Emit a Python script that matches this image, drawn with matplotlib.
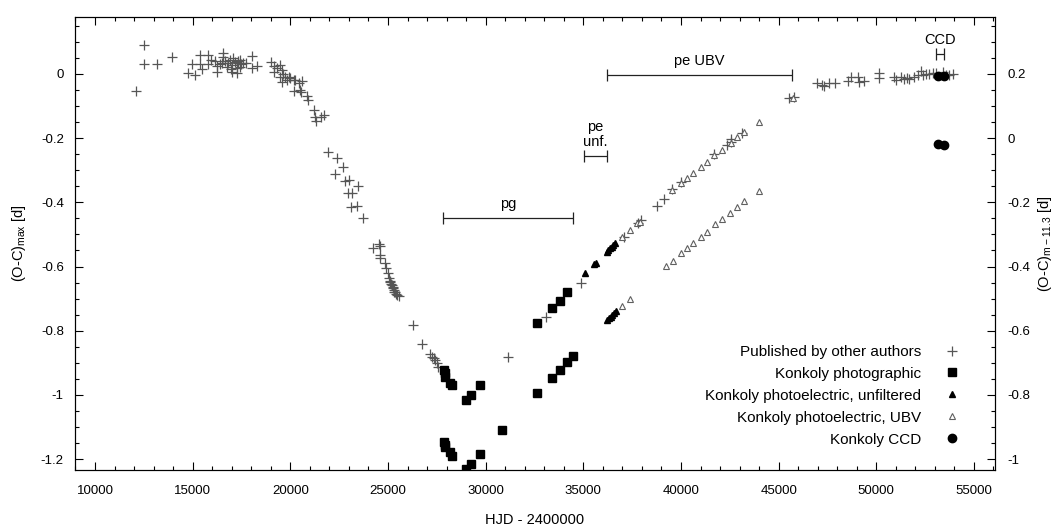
import matplotlib
matplotlib.use("Agg")
import matplotlib.pyplot as plt
from matplotlib.ticker import MultipleLocator, FuncFormatter

plt.rcParams['font.family'] = ['Liberation Sans', 'DejaVu Sans']
plt.rcParams['mathtext.fontset'] = 'custom'
plt.rcParams['mathtext.rm'] = 'Liberation Sans'

# ---- (O-C)_max, published maxima (left axis) ----
pub_hjd = [12086, 12512, 12512, 13195, 13930, 14750, 14990, 15126, 15382, 15382,
           15500, 15809, 15809, 15950, 16151, 16238, 16238, 16400, 16492, 16577,
           16577, 16650, 16748, 16833, 16920, 16960, 17005, 17005, 17090, 17176,
           17262, 17262, 17300, 17347, 17400, 17432, 17500, 17603, 17722, 18030,
           18030, 18286, 19006, 19141, 19141, 19300, 19483, 19483, 19568, 19568,
           19650, 19740, 19825, 19910, 20000, 20165, 20165, 20252, 20421, 20508,
           20530, 20593, 20850, 20884, 21191, 21278, 21312, 21568, 21705, 21910,
           22388, 22303, 22695, 22780, 23020, 22951, 23155, 23463, 23122, 23412,
           23720, 24233, 24523, 24609, 24575, 24609, 24866, 24917, 24986, 25037,
           25080, 25122, 25160, 25208, 25240, 25259, 25293, 25330, 25378, 25420,
           25464, 25583, 26286, 26762, 27173, 27258, 27350, 27429, 27515, 27566,
           31138, 33067, 34862, 37080, 37800, 37937, 38778, 39155, 39558, 40000,
           41692, 42370, 42550, 42584, 43100, 45537, 45793, 46940, 47196, 47298,
           47585, 47877, 48528, 48698, 49041, 49126, 49382, 50151, 50151, 50920,
           51006, 51262, 51400, 51569, 51689, 51945, 52116, 52287, 52373, 52543,
           52714, 52885, 53055, 53397, 53568, 53739, 53910]
pub_oc = [-0.052, 0.090, 0.032, 0.032, 0.054, 0.004, 0.032, -0.002, 0.060, 0.032,
          0.015, 0.060, 0.032, 0.045, 0.041, 0.007, 0.025, 0.030, 0.033, 0.066,
          0.054, 0.040, 0.023, 0.033, 0.044, 0.015, 0.028, 0.007, 0.050, 0.038,
          0.018, 0.002, 0.040, 0.033, 0.022, 0.044, 0.030, 0.033, 0.035, 0.056,
          0.018, 0.026, 0.038, 0.026, 0.007, 0.020, 0.028, -0.008, 0.012, -0.024,
          0.000, -0.008, -0.019, -0.008, -0.012, -0.019, -0.052, -0.019, -0.029, -0.050,
          -0.055, -0.022, -0.068, -0.081, -0.112, -0.133, -0.145, -0.135, -0.128, -0.244,
          -0.263, -0.312, -0.289, -0.332, -0.330, -0.370, -0.370, -0.349, -0.413, -0.410,
          -0.450, -0.543, -0.531, -0.536, -0.564, -0.574, -0.590, -0.605, -0.621, -0.636,
          -0.645, -0.647, -0.655, -0.657, -0.668, -0.665, -0.673, -0.680, -0.678, -0.685,
          -0.688, -0.692, -0.782, -0.843, -0.872, -0.881, -0.885, -0.891, -0.901, -0.912,
          -0.881, -0.756, -0.652, -0.507, -0.465, -0.455, -0.411, -0.390, -0.358, -0.338,
          -0.250, -0.221, -0.213, -0.203, -0.185, -0.074, -0.073, -0.029, -0.034, -0.037,
          -0.027, -0.027, -0.021, -0.010, -0.008, -0.024, -0.021, 0.002, -0.013, -0.010,
          -0.019, -0.008, -0.017, -0.013, -0.017, -0.008, -0.003, 0.010, -0.003, -0.001,
          0.000, 0.002, 0.004, 0.007, -0.003, -0.003, -0.001]

# ---- Konkoly photographic ----
pg_max_hjd = [27890, 27900, 27940, 28200, 28280, 29000, 29255, 29735, 32640, 33410, 33785, 34145]
pg_max_oc = [-0.922, -0.932, -0.943, -0.962, -0.970, -1.016, -1.000, -0.969, -0.775, -0.729, -0.706, -0.681]
pg_m_hjd = [27890, 27900, 27940, 28200, 28280, 29000, 29255, 29735, 30827, 32640, 33410, 33785, 34145, 34485]
pg_m_oc = [-0.948, -0.955, -0.963, -0.978, -0.990, -1.030, -1.015, -0.984, -0.911, -0.793, -0.746, -0.722, -0.699, -0.679]

# ---- Konkoly photoelectric, unfiltered ----
peu_max_hjd = [35086, 35547, 35630, 36192, 36278, 36366, 36450, 36536, 36620]
peu_max_oc = [-0.619, -0.593, -0.590, -0.554, -0.549, -0.543, -0.538, -0.533, -0.527]
peu_m_hjd = [36227, 36313, 36398, 36484, 36569, 36655]
peu_m_oc = [-0.566, -0.561, -0.556, -0.551, -0.546, -0.540]

# ---- Konkoly photoelectric, UBV ----
ubv_max_hjd = [36997, 37373, 37732, 37903, 39558, 39985, 40293, 40617, 41010, 41351,
               41692, 42122, 42550, 42891, 43232, 44001, 45710]
ubv_max_oc = [-0.507, -0.486, -0.465, -0.460, -0.361, -0.340, -0.325, -0.309, -0.289, -0.273,
              -0.252, -0.237, -0.216, -0.197, -0.180, -0.149, -0.076]
ubv_m_hjd = [36997, 37373, 39225, 39584, 39985, 40293, 40617, 41010, 41351, 41727,
             42087, 42498, 42857, 43232, 44001]
ubv_m_oc = [-0.523, -0.502, -0.397, -0.382, -0.359, -0.343, -0.327, -0.307, -0.291, -0.268,
            -0.253, -0.232, -0.213, -0.195, -0.164]

# ---- Konkoly CCD ----
ccd_max_hjd = [53141, 53483]
ccd_max_oc = [-0.005, -0.005]
ccd_m_hjd = [53141, 53483]
ccd_m_oc = [-0.019, -0.022]

# ---- observing-campaign ranges: label, start, end, level (left axis) ----
range_labels = ["pg", "pe\nunf.", "pe UBV", "CCD"]
range_start = [27816, 35034, 36212, 53055]
range_end = [34471, 36212, 45683, 53465]
range_level = [-0.449, -0.256, -0.003, 0.062]

legend_labels = ["Published by other authors", "Konkoly photographic",
                 "Konkoly photoelectric, unfiltered", "Konkoly photoelectric, UBV",
                 "Konkoly CCD"]

XLIM = (8976, 56075)
YLIM = (-1.2343, 0.1777)
OFFSET = 0.2
FS = 9.5       # tick labels
FS_TXT = 10.5  # axis labels, annotations
FS_LEG = 11    # legend

fig = plt.figure(figsize=(10.56, 5.29), dpi=100)
ax = fig.add_axes([0.0710, 0.1115, 0.8712, 0.8564])
ax2 = ax.twinx()

grey = '#565656'
h_pub, = ax.plot(pub_hjd, pub_oc, linestyle='none', marker='+', ms=6.5, mew=0.9, color=grey)
h_pg, = ax.plot(pg_max_hjd, pg_max_oc, linestyle='none', marker='s', ms=5.5, color='black')
ax2.plot(pg_m_hjd, pg_m_oc, linestyle='none', marker='s', ms=5.5, color='black')
h_peu, = ax.plot(peu_max_hjd, peu_max_oc, linestyle='none', marker='^', ms=5, color='black')
ax2.plot(peu_m_hjd, peu_m_oc, linestyle='none', marker='^', ms=5, color='black')
h_ubv, = ax.plot(ubv_max_hjd, ubv_max_oc, linestyle='none', marker='^', ms=5, mfc='white',
                 mec='#606060', mew=0.8)
ax2.plot(ubv_m_hjd, ubv_m_oc, linestyle='none', marker='^', ms=5, mfc='white',
         mec='#606060', mew=0.8)
h_ccd, = ax.plot(ccd_max_hjd, ccd_max_oc, linestyle='none', marker='o', ms=6, color='black')
ax2.plot(ccd_m_hjd, ccd_m_oc, linestyle='none', marker='o', ms=6, color='black')

# campaign range bars with end caps and labels
for lab, s, e, lev in zip(range_labels, range_start, range_end, range_level):
    mid = 0.5 * (s + e)
    ax.errorbar([mid], [lev], xerr=[[mid - s], [e - mid]], fmt='none', ecolor='#222222',
                elinewidth=0.9, capsize=4, capthick=0.9)
    ax.annotate(lab, xy=(mid, lev), xytext=(0, 5), textcoords='offset points',
                ha='center', va='bottom', fontsize=FS_TXT, linespacing=1.15)

ax.set_xlim(*XLIM)
ax.set_ylim(*YLIM)
ax2.set_ylim(YLIM[0] + OFFSET, YLIM[1] + OFFSET)

fmt = FuncFormatter(lambda v, p: '%g' % round(v, 3) if abs(v) > 1e-9 else '0')
ax.xaxis.set_major_locator(MultipleLocator(5000))
ax.xaxis.set_minor_locator(MultipleLocator(1000))
ax.yaxis.set_major_locator(MultipleLocator(0.2))
ax.yaxis.set_minor_locator(MultipleLocator(0.05))
ax2.yaxis.set_major_locator(MultipleLocator(0.2))
ax2.yaxis.set_minor_locator(MultipleLocator(0.05))
ax.yaxis.set_major_formatter(fmt)
ax2.yaxis.set_major_formatter(fmt)

ax.tick_params(axis='both', which='both', direction='in', top=True, right=False,
               labelsize=FS, width=0.8)
ax.tick_params(axis='both', which='major', length=6)
ax.tick_params(axis='both', which='minor', length=3)
ax.tick_params(axis='x', which='major', pad=11)
ax.tick_params(axis='y', which='major', pad=8)
ax2.tick_params(axis='y', which='both', direction='in', labelsize=FS, width=0.8, pad=9)
ax2.tick_params(axis='y', which='major', length=6)
ax2.tick_params(axis='y', which='minor', length=3)
for a in (ax, ax2):
    for sp in a.spines.values():
        sp.set_linewidth(0.8)

ax.set_xlabel('HJD - 2400000', fontsize=FS_TXT, labelpad=11)
ax.set_ylabel(r'(O-C)$_{\mathregular{max}}$ [d]', fontsize=FS_TXT, labelpad=9)
ax2.set_ylabel(r'(O-C)$_{\mathregular{m-11.3}}$ [d]', fontsize=FS_TXT, labelpad=4)

leg = ax.legend([h_pub, h_pg, h_peu, h_ubv, h_ccd], legend_labels, loc='lower right',
                bbox_to_anchor=(0.973, 0.028), frameon=False, markerfirst=False,
                fontsize=FS_LEG, handlelength=1.0, handletextpad=1.5, labelspacing=0.52,
                borderpad=0.2)

fig.savefig('out.png', dpi=100)
